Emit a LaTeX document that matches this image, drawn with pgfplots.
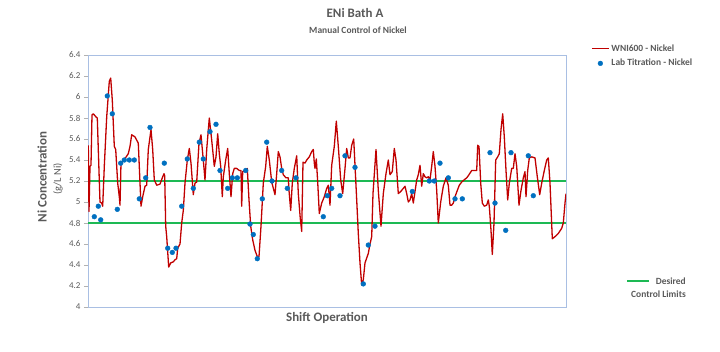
\documentclass[border=0pt]{standalone}
\usepackage{pgfplots}
\pgfplotsset{compat=1.18}
\usepackage{fontspec}
\setmainfont{Carlito}
\definecolor{txt}{HTML}{595959}
\definecolor{nired}{HTML}{C00000}
\definecolor{niblue}{HTML}{0070C0}
\definecolor{nigreen}{HTML}{1DB954}
\definecolor{frame}{HTML}{A9BFE3}
\begin{document}
\begin{tikzpicture}
\useasboundingbox (0,0) rectangle (720bp,352bp);
\begin{axis}[
  at={(88bp,45bp)}, anchor=south west, scale only axis,
  width=478bp, height=252bp,
  xmin=88, xmax=566, ymin=4, ymax=6.4,
  xtick=\empty,
  ytick={4,4.2,4.4,4.6,4.8,5,5.2,5.4,5.6,5.8,6,6.2,6.4},
  ytick pos=left, tick align=outside, major tick length=4bp,
  tick style={color=gray!60},
  axis line style={color=frame, line width=0.8bp},
  /pgf/number format/assume math mode=true,
  yticklabel style={font=\fontsize{9}{10}\selectfont, text=txt, /pgf/number format/fixed},
  legend style={draw=none, fill=none, at={(1,1)}, anchor=north west,
    xshift=22bp, yshift=14.5bp, font=\fontsize{9.5}{11}\selectfont\bfseries, text=txt,
    row sep=2.5bp, cells={anchor=west}},
  legend cell align=left,
]
\addplot[color=nigreen, line width=1.1bp, forget plot] coordinates {(88,5.2) (566,5.2)};
\addplot[color=nigreen, line width=1.1bp, forget plot] coordinates {(88,4.8) (566,4.8)};
\addplot[color=nired, line width=1.3bp, line join=round] coordinates {
(88.3,5.54) (89,4.91) (90,5.34) (91,5.35) (92,5.83) (93.3,5.84) (96,5.81) (97.3,5.80)
(98.3,5.50) (100,5.00) (101.7,4.99) (102.7,4.96) (104.3,5.34) (106.7,5.81) (107.7,5.94)
(109.3,6.15) (110.7,6.18) (112.3,5.97) (114.3,5.53) (115.7,5.50) (117.7,5.18) (119.3,5.05)
(120,4.97) (121,5.37) (124,5.40) (128.3,5.46) (130,5.53) (131.7,5.64) (135,5.62) (138.3,5.56)
(141,4.96) (142.7,5.05) (145,5.15) (146.7,5.16) (148.3,5.50) (151,5.69) (152.7,5.50)
(154.3,5.21) (156.7,5.16) (160,5.17) (162.3,5.23) (164,5.27) (164.7,5.25) (165.7,4.77)
(166.7,4.67) (168.7,4.38) (170.7,4.42) (173.3,4.43) (175,4.45) (176.7,4.46) (177.7,4.56)
(180,4.60) (181.7,4.80) (183.3,4.92) (185,5.18) (187.3,5.40) (189.3,5.51) (191,5.37)
(193.3,5.07) (195,5.18) (196.7,5.19) (199,5.56) (201,5.64) (203.3,5.40) (205,5.21)
(206.7,5.50) (209.3,5.80) (211.7,5.59) (214.3,5.34) (216,5.43) (217.7,5.65) (219.3,5.46)
(220.7,5.34) (222.3,5.05) (223.3,5.24) (225.7,5.40) (227.7,5.51) (229.3,5.27) (231,5.05)
(232.7,5.27) (234.3,5.32) (236.7,5.32) (239.3,5.30) (241,5.30) (241.7,4.96) (242.7,5.29)
(245,5.30) (247.3,5.32) (249,5.02) (250.7,4.77) (252.7,4.64) (255,4.54) (257.3,4.48)
(259,4.48) (261,4.77) (263.3,5.18) (265.7,5.34) (267.3,5.53) (269.3,5.40) (271.7,5.19)
(275,5.07) (276.7,5.27) (278.3,5.48) (280,5.43) (281.7,5.32) (283.3,5.26) (286,5.23)
(288.3,5.23) (289,5.11) (290.7,4.92) (292.3,5.18) (294.3,5.32) (296.7,5.44) (298.3,5.08)
(300.3,4.84) (301.7,4.72) (303,5.38) (305,5.37) (306.7,5.40) (309.3,5.43) (311.7,5.48)
(313.3,5.50) (314.3,5.37) (315,5.32) (316.3,5.41) (317.7,5.19) (319.3,4.89) (321.7,4.99)
(324.3,5.05) (326.7,5.13) (328.3,5.16) (330,4.97) (331.7,5.35) (334.3,5.53) (336.3,5.77)
(338.3,5.53) (340.7,5.21) (342.7,5.08) (345,5.32) (346.7,5.51) (348.3,5.42) (350,5.42)
(351.7,5.54) (353.7,5.60) (355,5.35) (356.7,5.02) (358.3,4.70) (360,4.42) (361.7,4.21)
(363.3,4.26) (365,4.42) (368.3,4.51) (370,4.60) (371.7,4.67) (373,5.08) (376,5.50)
(378.3,5.11) (381,4.77) (383.3,5.08) (386,5.27) (388.3,5.40) (390,5.26) (392.3,5.29)
(394.3,5.51) (396,5.40) (398.3,5.08) (400.7,5.10) (403.3,5.13) (405,5.15) (406.7,5.08)
(408.3,5.00) (410,5.02) (411.7,5.08) (413.3,4.99) (415,5.10) (416.7,5.21) (418.3,5.26)
(420,5.35) (421.7,5.15) (423.3,5.27) (425,5.24) (426.7,5.23) (428.3,5.24) (430,5.21)
(431.7,5.34) (433.3,5.48) (435,5.34) (436.7,5.11) (438.3,4.80) (440.7,5.00) (443.3,5.15)
(446,5.23) (448.3,5.16) (450,4.97) (451.7,4.97) (453.3,4.99) (455,5.05) (457.3,5.11)
(459.3,5.16) (461.7,5.19) (464,5.21) (466.7,5.23) (468.3,5.25) (471.7,5.30) (475,5.30)
(476.7,5.30) (477.7,5.54) (479,5.53) (480.7,5.18) (482.3,4.99) (484.3,4.96) (486.7,4.97)
(488.3,5.02) (489.3,4.96) (491,4.73) (492.3,4.50) (494,4.80) (495.7,5.40) (497.7,5.43)
(499.3,5.46) (501,5.69) (502.7,5.84) (504.3,5.62) (506,5.30) (507.7,5.02) (509.3,5.18)
(511.7,5.32) (513.3,5.32) (515,5.46) (516.7,5.34) (519,4.97) (521,5.11) (523.3,5.23)
(525,5.29) (526,5.05) (527.7,5.30) (529.3,5.42) (531.7,5.43) (535,5.42) (537.3,5.24)
(539.7,5.07) (541.7,5.18) (544.3,5.30) (546.7,5.40) (548.3,5.42) (550,5.18) (552.3,4.65)
(555,4.67) (558.3,4.70) (561.7,4.75) (563.3,4.80) (565,4.99) (566,5.08)
};
\addlegendentry{WNI600 - Nickel}
\addplot[only marks, mark=*, mark size=2.4bp, color=niblue] coordinates {
(94.3,4.86) (98.3,4.96) (100.7,4.83) (107.3,6.01) (112.3,5.84) (117.3,4.93) (120.7,5.37)
(124.3,5.40) (129.3,5.40) (134.3,5.40) (139.3,5.03) (145.7,5.23) (150,5.71) (164.3,5.37)
(167.7,4.56) (172.3,4.52) (176,4.56) (181.7,4.96) (187.3,5.41) (193.3,5.13) (199.3,5.57)
(203.3,5.41) (210,5.67) (216,5.74) (220,5.30) (227.7,5.13) (232.3,5.23) (237.3,5.23)
(245.7,5.30) (250,4.79) (253.3,4.69) (257.3,4.46) (262.3,5.03) (266.7,5.57) (272,5.20)
(281.7,5.30) (287.3,5.13) (296,5.23) (323.3,4.86) (327.3,5.06) (331.7,5.13) (340,5.06)
(345,5.44) (355,5.33) (363.3,4.22) (368.3,4.59) (375,4.77) (412.3,5.10) (429.3,5.20)
(434.3,5.20) (440,5.37) (448.3,5.23) (455,5.03) (462.3,5.03) (490,5.47) (495,4.99)
(505.7,4.73) (511,5.47) (528.3,5.44) (533.3,5.06)
};
\addlegendentry{Lab Titration - Nickel}
\end{axis}
% titles and labels
\node[text=txt, font=\fontsize{13}{15}\selectfont\bfseries] at (355bp,339bp) {ENi Bath A};
\node[text=txt, font=\fontsize{9.5}{11}\selectfont\bfseries] at (358bp,322bp) {Manual Control of Nickel};
\node[text=txt, font=\fontsize{13}{15}\selectfont\bfseries, rotate=90] at (42bp,175bp) {Ni Concentration};
\node[text=txt, font=\fontsize{10.5}{12}\selectfont, rotate=90] at (58bp,173bp) {(g/L Ni)};
\node[text=txt, font=\fontsize{13}{15}\selectfont\bfseries] at (327bp,34bp) {Shift Operation};
% control limits legend
\draw[color=nigreen, line width=1.4bp] (627bp,71bp) -- (649bp,71bp);
\node[anchor=east, text=txt, font=\fontsize{9.5}{11}\selectfont\bfseries, inner sep=0pt] at (686bp,71bp) {Desired};
\node[anchor=east, text=txt, font=\fontsize{9.5}{11}\selectfont\bfseries, inner sep=0pt] at (686bp,58bp) {Control Limits};
\end{tikzpicture}
\end{document}
